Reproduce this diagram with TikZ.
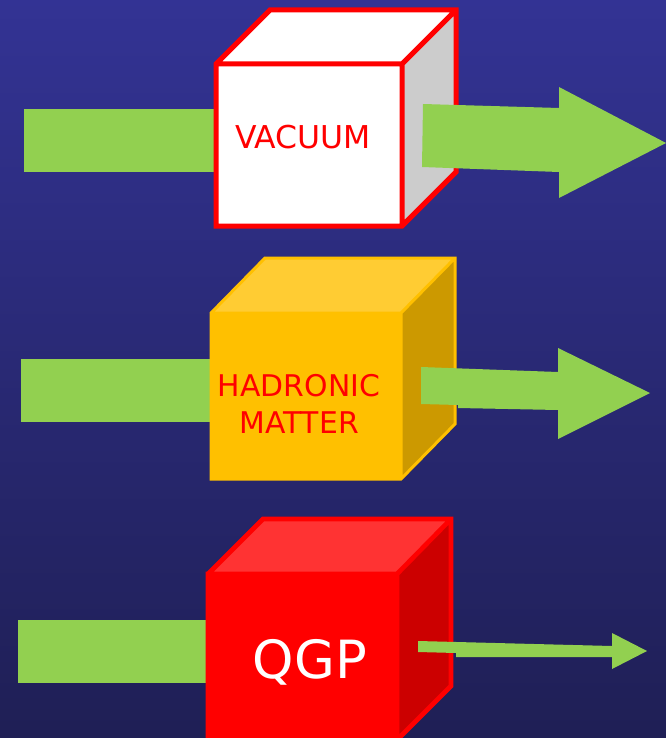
\documentclass[tikz,border=0pt]{standalone}
\usepackage{fontspec}
\setmainfont{DejaVu Sans}

\tikzset{every picture/.style={line width=0.75pt}}

\begin{document}
\begin{tikzpicture}[x=0.75pt,y=0.75pt,yscale=-1,xscale=1]
\clip (0,0) rectangle (666,738);
%Shape: Background [id:bg]
\shade [top color={rgb, 255:red, 51; green, 51; blue, 148 }, bottom color={rgb, 255:red, 31; green, 31; blue, 85 }] (0,0) rectangle (666,738);

%Shape: Rectangle [id:in1]
\draw  [draw opacity=0][fill={rgb, 255:red, 146; green, 208; blue, 80 }  ] (24,109) -- (240,109) -- (240,172) -- (24,172) -- cycle ;
%Shape: Rectangle [id:in2]
\draw  [draw opacity=0][fill={rgb, 255:red, 146; green, 208; blue, 80 }  ] (21,359) -- (240,359) -- (240,422) -- (21,422) -- cycle ;
%Shape: Rectangle [id:in3]
\draw  [draw opacity=0][fill={rgb, 255:red, 146; green, 208; blue, 80 }  ] (18,620) -- (240,620) -- (240,683) -- (18,683) -- cycle ;

%Shape: Cube [id:vacuum]
\fill  [fill={rgb, 255:red, 255; green, 255; blue, 255 }  ] (216,64) -- (270,10) -- (456,10) -- (402,64) -- cycle ;
\fill  [fill={rgb, 255:red, 204; green, 204; blue, 204 }  ] (402,64) -- (456,10) -- (456,172) -- (402,226) -- cycle ;
\fill  [fill={rgb, 255:red, 255; green, 255; blue, 255 }  ] (216,64) -- (402,64) -- (402,226) -- (216,226) -- cycle ;
\draw  [color={rgb, 255:red, 255; green, 0; blue, 0 }  ][line width=3.75] (216,64) -- (270,10) -- (456,10) -- (456,172) -- (402,226) -- (216,226) -- cycle (216,64) -- (402,64) -- (456,10) (402,64) -- (402,226) ;

%Shape: Cube [id:hadronic]
\fill  [fill={rgb, 255:red, 255; green, 204; blue, 51 }  ] (211,313) -- (265,258) -- (455,258) -- (401,313) -- cycle ;
\fill  [fill={rgb, 255:red, 204; green, 153; blue, 0 }  ] (401,313) -- (455,258) -- (455,424) -- (401,479) -- cycle ;
\fill  [fill={rgb, 255:red, 255; green, 192; blue, 0 }  ] (211,313) -- (401,313) -- (401,479) -- (211,479) -- cycle ;
\draw  [color={rgb, 255:red, 255; green, 192; blue, 0 }  ][line width=2.25] (211,313) -- (265,258) -- (455,258) -- (455,424) -- (401,479) -- (211,479) -- cycle (211,313) -- (401,313) -- (455,258) (401,313) -- (401,479) ;

%Shape: Cube [id:qgp]
\fill  [fill={rgb, 255:red, 255; green, 51; blue, 51 }  ] (208,574) -- (263,519) -- (451,519) -- (397,574) -- cycle ;
\fill  [fill={rgb, 255:red, 204; green, 0; blue, 0 }  ] (397,574) -- (451,519) -- (451,686) -- (397,740) -- cycle ;
\fill  [fill={rgb, 255:red, 255; green, 0; blue, 0 }  ] (208,574) -- (397,574) -- (397,760) -- (208,760) -- cycle ;
\draw  [color={rgb, 255:red, 255; green, 0; blue, 0 }  ][line width=3.5] (208,574) -- (263,519) -- (451,519) -- (451,686) -- (397,740) -- (397,760) (208,760) -- (208,574) -- (397,574) -- (451,519) (397,574) -- (397,760) ;

%Shape: Right Arrow [id:out1]
\draw  [draw opacity=0][fill={rgb, 255:red, 146; green, 208; blue, 80 }  ] (423,104) -- (559,108) -- (559,87) -- (666,143) -- (559,198) -- (559,172) -- (422,167) -- cycle ;
%Shape: Right Arrow [id:out2]
\draw  [draw opacity=0][fill={rgb, 255:red, 146; green, 208; blue, 80 }  ] (421,367) -- (558,372) -- (558,348) -- (650,393) -- (558,439) -- (558,410) -- (458,408) -- (458,405) -- (421,404) -- cycle ;
%Shape: Right Arrow [id:out3]
\draw  [draw opacity=0][fill={rgb, 255:red, 146; green, 208; blue, 80 }  ] (418,641) -- (612,646) -- (612,633) -- (647,651) -- (612,669) -- (612,657) -- (456,657) -- (456,653) -- (418,652) -- cycle ;

% Text Node
\node (vacuumtxt) at (303,137.5) [inner sep=0.75pt] [color={rgb, 255:red, 255; green, 0; blue, 0 }  ][font=\fontsize{23.6}{28}\selectfont] {VACUUM};
% Text Node
\node (hadronictxt) at (299,403.5) [inner sep=0.75pt] [color={rgb, 255:red, 255; green, 0; blue, 0 }  ][align=center][font=\fontsize{22.4}{27.75}\selectfont] {HADRONIC\\MATTER};
% Text Node
\node (qgptxt) at (310,662) [inner sep=0.75pt] [color={rgb, 255:red, 255; green, 255; blue, 255 }  ][font=\fontsize{39.5}{44}\selectfont] {QGP};

\end{tikzpicture}
\end{document}
